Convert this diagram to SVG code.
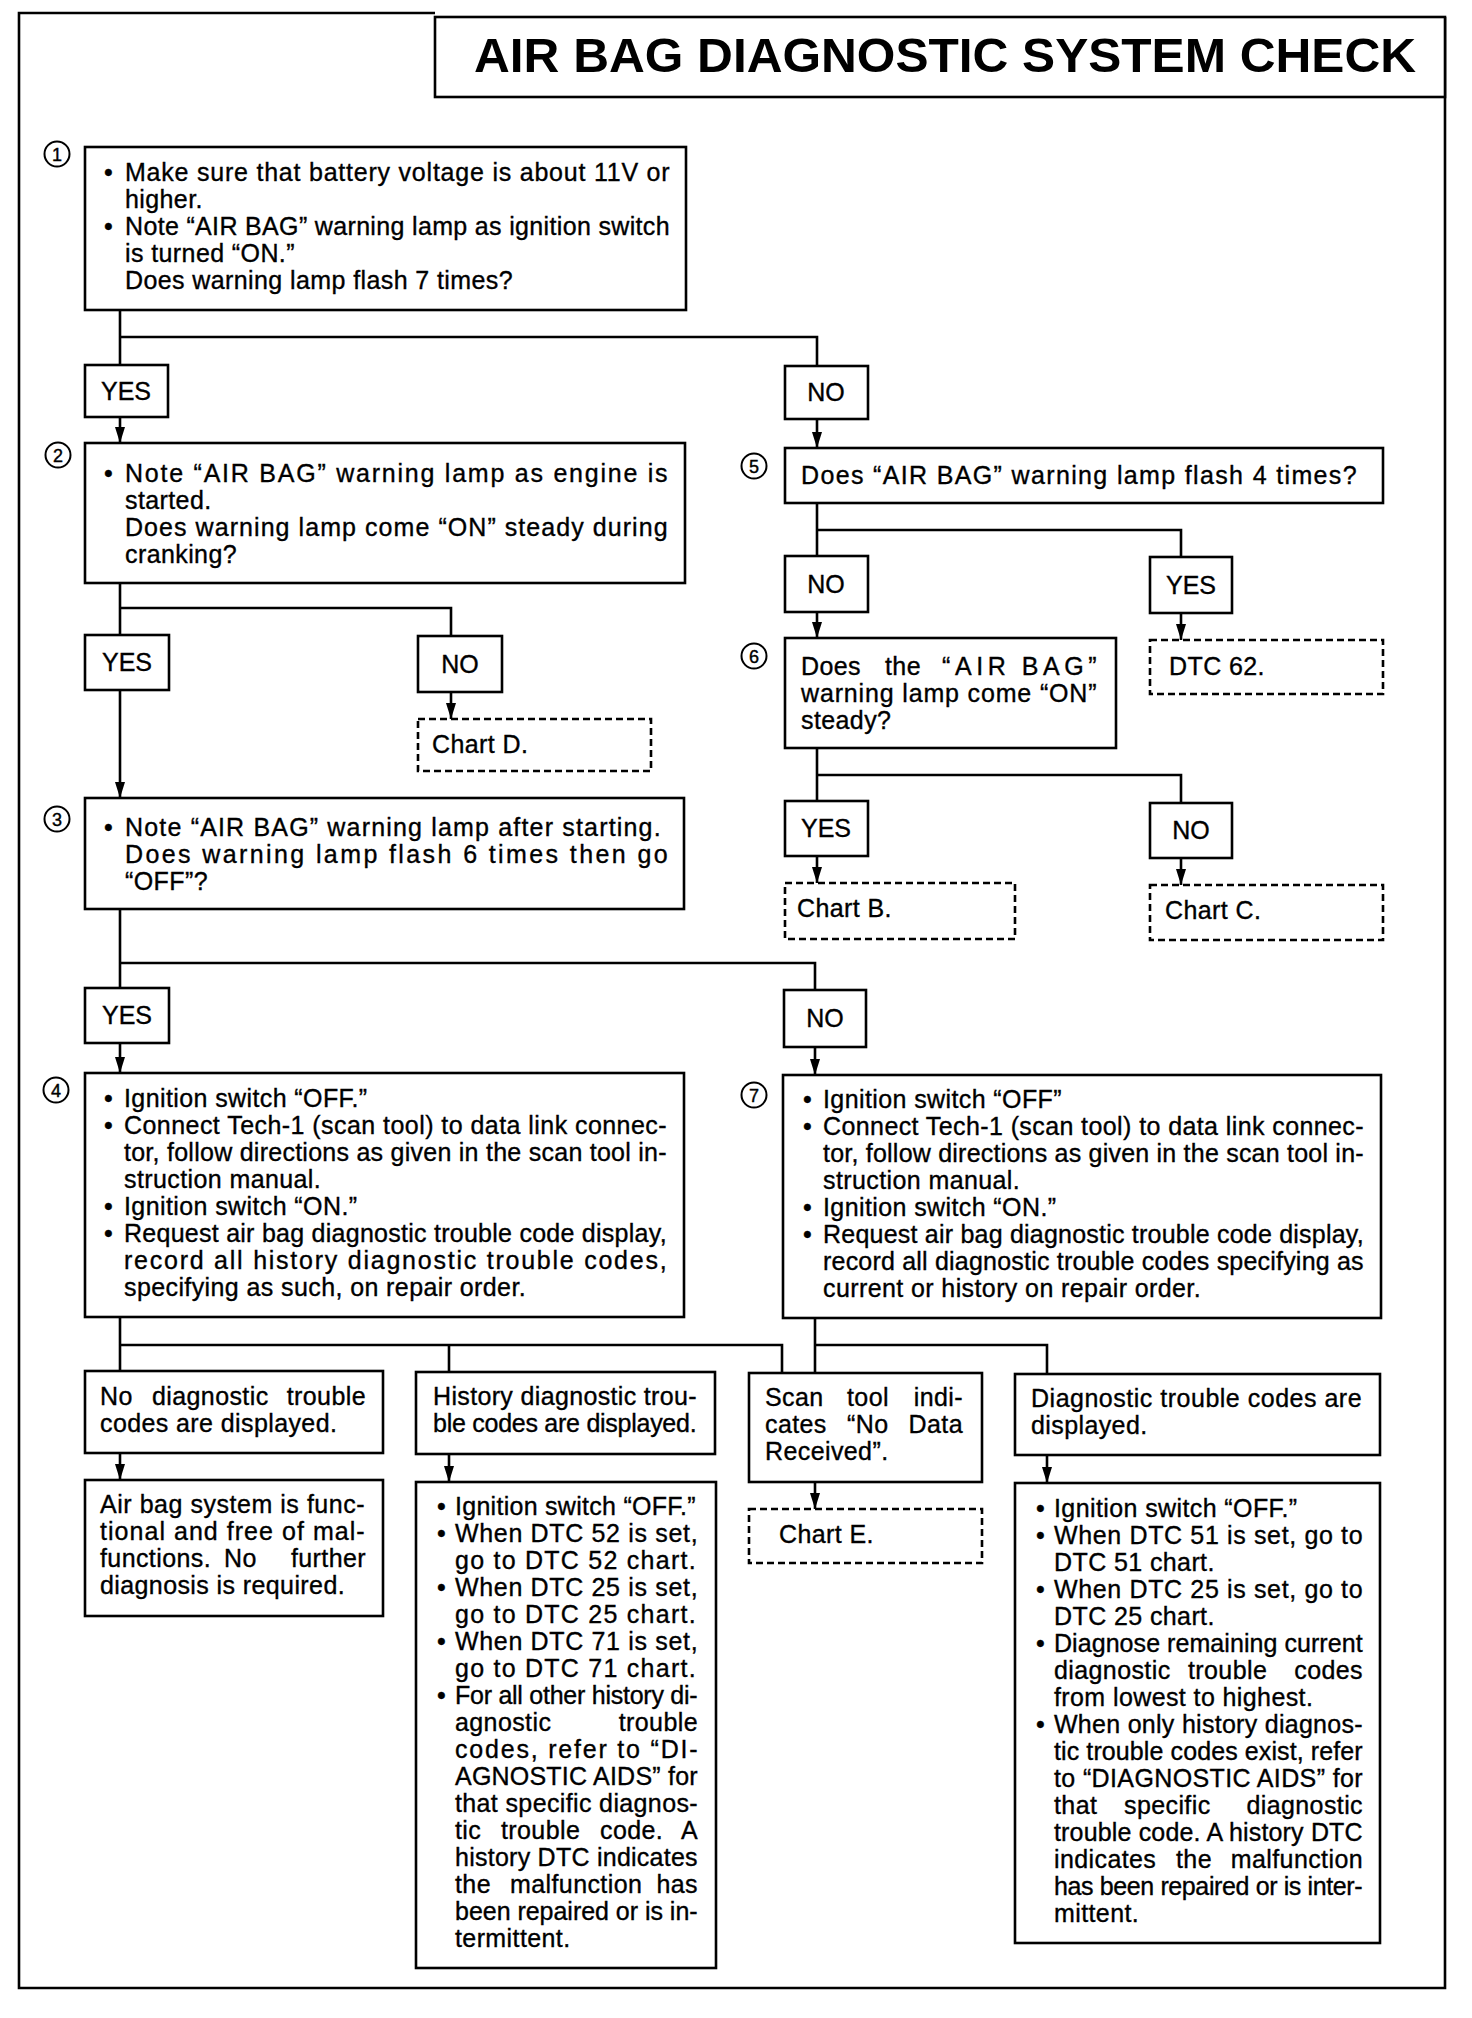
<svg xmlns="http://www.w3.org/2000/svg" width="1472" height="2018" viewBox="0 0 1472 2018">
<defs>
<marker id="ah" viewBox="0 0 16 10" refX="16" refY="5" markerWidth="16" markerHeight="10" markerUnits="userSpaceOnUse" orient="auto"><path d="M0,0 L16,5 L0,10 z" fill="#000"/></marker>
<style>
.box{fill:#fff;stroke:#000;stroke-width:2.6}
.dash{fill:#fff;stroke:#000;stroke-width:2.6;stroke-dasharray:7 4}
.t{font-family:"Liberation Sans",Arial,sans-serif;font-size:25px;letter-spacing:0.4px;fill:#000;stroke:#000;stroke-width:0.35px}
.e{text-anchor:end}
.lb{font-family:"Liberation Sans",Arial,sans-serif;font-size:25px;fill:#000;stroke:#000;stroke-width:0.35px;text-anchor:middle}
.num{font-family:"Liberation Sans",Arial,sans-serif;font-size:18px;fill:#000;stroke:#000;stroke-width:0.4px;text-anchor:middle}
.circ{fill:none;stroke:#000;stroke-width:2}
.conn{fill:none;stroke:#000;stroke-width:2.6}
.title{font-family:"Liberation Sans",Arial,sans-serif;font-size:48px;font-weight:bold;fill:#000}
</style>
</defs>
<rect width="1472" height="2018" fill="#fff"/>
<g id="frame">
<path d="M435,13 H19 V1988 H1445 V17" fill="none" stroke="#000" stroke-width="2.6"/>
</g>
<g id="title">
<rect x="435" y="17" width="1010" height="80" class="box"/>
<text x="474" y="72" class="title" textLength="942" lengthAdjust="spacingAndGlyphs">AIR BAG DIAGNOSTIC SYSTEM CHECK</text>
</g>

<g id="connectors">
<path class="conn" d="M120,310 V365 M120,337 H817 V366"/>
<path class="conn" d="M120,417 V443" marker-end="url(#ah)"/>
<path class="conn" d="M817,419 V448" marker-end="url(#ah)"/>
<path class="conn" d="M817,503 V556 M817,530 H1181 V557"/>
<path class="conn" d="M817,612 V638" marker-end="url(#ah)"/>
<path class="conn" d="M1181,613 V640" marker-end="url(#ah)"/>
<path class="conn" d="M817,748 V801 M817,775 H1181 V803"/>
<path class="conn" d="M817,856 V883" marker-end="url(#ah)"/>
<path class="conn" d="M1181,858 V885" marker-end="url(#ah)"/>
<path class="conn" d="M120,583 V635 M120,608 H451 V636"/>
<path class="conn" d="M451,692 V719" marker-end="url(#ah)"/>
<path class="conn" d="M120,690 V798" marker-end="url(#ah)"/>
<path class="conn" d="M120,909 V988 M120,963 H815 V990"/>
<path class="conn" d="M120,1043 V1073" marker-end="url(#ah)"/>
<path class="conn" d="M815,1047 V1075" marker-end="url(#ah)"/>
<path class="conn" d="M120,1317 V1371 M120,1345 H782 V1373 M449,1345 V1372"/>
<path class="conn" d="M815,1318 V1373 M815,1345 H1047 V1374"/>
<path class="conn" d="M120,1453 V1480" marker-end="url(#ah)"/>
<path class="conn" d="M449,1454 V1482" marker-end="url(#ah)"/>
<path class="conn" d="M815,1482 V1509" marker-end="url(#ah)"/>
<path class="conn" d="M1047,1455 V1483" marker-end="url(#ah)"/>
</g>

<g id="step1">
<circle cx="57" cy="154" r="12.5" class="circ"/><text x="57" y="160.5" class="num">1</text>
<rect x="85" y="147" width="601" height="163" class="box"/>
<text x="104" y="181" class="t">•</text><text x="125" y="181" class="t" textLength="545" lengthAdjust="spacing">Make sure that battery voltage is about 11V or</text>
<text x="125" y="208" class="t">higher.</text>
<text x="104" y="235" class="t">•</text><text x="125" y="235" class="t" textLength="545" lengthAdjust="spacing">Note “AIR BAG” warning lamp as ignition switch</text>
<text x="125" y="262" class="t">is turned “ON.”</text>
<text x="125" y="289" class="t">Does warning lamp flash 7 times?</text>
</g>

<g id="yes1"><rect x="85" y="365" width="83" height="52" class="box"/><text x="126" y="400" class="lb">YES</text></g>
<g id="no1"><rect x="785" y="366" width="83" height="53" class="box"/><text x="826" y="401" class="lb">NO</text></g>

<g id="step2">
<circle cx="58" cy="455" r="12.5" class="circ"/><text x="58" y="461.5" class="num">2</text>
<rect x="85" y="443" width="600" height="140" class="box"/>
<text x="104" y="482" class="t">•</text><text x="125" y="482" class="t" textLength="543" lengthAdjust="spacing">Note “AIR BAG” warning lamp as engine is</text>
<text x="125" y="509" class="t">started.</text>
<text x="125" y="536" class="t" textLength="543" lengthAdjust="spacing">Does warning lamp come “ON” steady during</text>
<text x="125" y="563" class="t">cranking?</text>
</g>

<g id="yes2"><rect x="85" y="635" width="84" height="55" class="box"/><text x="127" y="671" class="lb">YES</text></g>
<g id="no2"><rect x="418" y="636" width="84" height="56" class="box"/><text x="460" y="673" class="lb">NO</text></g>
<g id="chartD"><rect x="418" y="719" width="233" height="52" class="dash"/><text x="432" y="753" class="t">Chart D.</text></g>

<g id="step3">
<circle cx="57" cy="819" r="12.5" class="circ"/><text x="57" y="825.5" class="num">3</text>
<rect x="85" y="798" width="599" height="111" class="box"/>
<text x="104" y="836" class="t">•</text><text x="125" y="836" class="t" textLength="536" lengthAdjust="spacing">Note “AIR BAG” warning lamp after starting.</text>
<text x="125" y="863" class="t" textLength="543" lengthAdjust="spacing">Does warning lamp flash 6 times then go</text>
<text x="125" y="890" class="t">“OFF”?</text>
</g>

<g id="yes3"><rect x="85" y="988" width="84" height="55" class="box"/><text x="127" y="1024" class="lb">YES</text></g>
<g id="no3"><rect x="784" y="990" width="82" height="57" class="box"/><text x="825" y="1027" class="lb">NO</text></g>

<g id="step4">
<circle cx="56" cy="1090" r="12.5" class="circ"/><text x="56" y="1096.5" class="num">4</text>
<rect x="85" y="1073" width="599" height="244" class="box"/>
<text x="104" y="1107" class="t">•</text><text x="124" y="1107" class="t">Ignition switch “OFF.”</text>
<text x="104" y="1134" class="t">•</text><text x="124" y="1134" class="t" textLength="543" lengthAdjust="spacing">Connect Tech-1 (scan tool) to data link connec-</text>
<text x="124" y="1161" class="t" textLength="543" lengthAdjust="spacing">tor, follow directions as given in the scan tool in-</text>
<text x="124" y="1188" class="t">struction manual.</text>
<text x="104" y="1215" class="t">•</text><text x="124" y="1215" class="t">Ignition switch “ON.”</text>
<text x="104" y="1242" class="t">•</text><text x="124" y="1242" class="t" textLength="543" lengthAdjust="spacing">Request air bag diagnostic trouble code display,</text>
<text x="124" y="1269" class="t" textLength="543" lengthAdjust="spacing">record all history diagnostic trouble codes,</text>
<text x="124" y="1296" class="t">specifying as such, on repair order.</text>
</g>

<g id="step5">
<circle cx="754" cy="466" r="12.5" class="circ"/><text x="754" y="472.5" class="num">5</text>
<rect x="785" y="448" width="598" height="55" class="box"/>
<text x="801" y="484" class="t" textLength="556" lengthAdjust="spacing">Does “AIR BAG” warning lamp flash 4 times?</text>
</g>

<g id="no5"><rect x="785" y="556" width="83" height="56" class="box"/><text x="826" y="593" class="lb">NO</text></g>
<g id="yes5"><rect x="1150" y="557" width="82" height="56" class="box"/><text x="1191" y="594" class="lb">YES</text></g>
<g id="dtc62"><rect x="1150" y="640" width="233" height="54" class="dash"/><text x="1169" y="675" class="t">DTC 62.</text></g>

<g id="step6">
<circle cx="754" cy="656" r="12.5" class="circ"/><text x="754" y="662.5" class="num">6</text>
<rect x="785" y="638" width="331" height="110" class="box"/>
<text x="801" y="675" class="t">Does</text><text x="885" y="675" class="t">the</text><text x="942" y="675" class="t" textLength="155" lengthAdjust="spacing">“AIR BAG”</text>
<text x="801" y="702" class="t" textLength="296" lengthAdjust="spacing">warning lamp come “ON”</text>
<text x="801" y="729" class="t">steady?</text>
</g>

<g id="yes6"><rect x="785" y="801" width="83" height="55" class="box"/><text x="826" y="837" class="lb">YES</text></g>
<g id="no6"><rect x="1150" y="803" width="82" height="55" class="box"/><text x="1191" y="839" class="lb">NO</text></g>
<g id="chartB"><rect x="785" y="883" width="230" height="56" class="dash"/><text x="797" y="917" class="t">Chart B.</text></g>
<g id="chartC"><rect x="1150" y="885" width="233" height="55" class="dash"/><text x="1165" y="919" class="t">Chart C.</text></g>

<g id="step7">
<circle cx="754" cy="1095" r="12.5" class="circ"/><text x="754" y="1101.5" class="num">7</text>
<rect x="783" y="1075" width="598" height="243" class="box"/>
<text x="803" y="1108" class="t">•</text><text x="823" y="1108" class="t">Ignition switch “OFF”</text>
<text x="803" y="1135" class="t">•</text><text x="823" y="1135" class="t" textLength="541" lengthAdjust="spacing">Connect Tech-1 (scan tool) to data link connec-</text>
<text x="823" y="1162" class="t" textLength="541" lengthAdjust="spacing">tor, follow directions as given in the scan tool in-</text>
<text x="823" y="1189" class="t">struction manual.</text>
<text x="803" y="1216" class="t">•</text><text x="823" y="1216" class="t">Ignition switch “ON.”</text>
<text x="803" y="1243" class="t">•</text><text x="823" y="1243" class="t" textLength="541" lengthAdjust="spacing">Request air bag diagnostic trouble code display,</text>
<text x="823" y="1270" class="t" textLength="541" lengthAdjust="spacing">record all diagnostic trouble codes specifying as</text>
<text x="823" y="1297" class="t">current or history on repair order.</text>
</g>

<g id="noCodes">
<rect x="85" y="1371" width="298" height="82" class="box"/>
<text x="100" y="1405" class="t">No</text><text x="152" y="1405" class="t">diagnostic</text><text x="366" y="1405" class="t e">trouble</text>
<text x="100" y="1432" class="t">codes are displayed.</text>
</g>
<g id="historyCodes">
<rect x="416" y="1372" width="299" height="82" class="box"/>
<text x="433" y="1405" class="t" textLength="264" lengthAdjust="spacing">History diagnostic trou-</text>
<text x="433" y="1432" class="t" textLength="264" lengthAdjust="spacing">ble codes are displayed.</text>
</g>
<g id="noData">
<rect x="749" y="1373" width="233" height="109" class="box"/>
<text x="765" y="1406" class="t">Scan</text><text x="847" y="1406" class="t">tool</text><text x="963" y="1406" class="t e">indi-</text>
<text x="765" y="1433" class="t">cates</text><text x="847" y="1433" class="t">“No</text><text x="963" y="1433" class="t e">Data</text>
<text x="765" y="1460" class="t">Received”.</text>
</g>
<g id="codesDisplayed">
<rect x="1015" y="1374" width="365" height="81" class="box"/>
<text x="1031" y="1407" class="t" textLength="331" lengthAdjust="spacing">Diagnostic trouble codes are</text>
<text x="1031" y="1434" class="t">displayed.</text>
</g>

<g id="systemOK">
<rect x="85" y="1480" width="298" height="136" class="box"/>
<text x="100" y="1513" class="t" textLength="265" lengthAdjust="spacing">Air bag system is func-</text>
<text x="100" y="1540" class="t" textLength="265" lengthAdjust="spacing">tional and free of mal-</text>
<text x="100" y="1567" class="t">functions.</text><text x="224" y="1567" class="t">No</text><text x="366" y="1567" class="t e">further</text>
<text x="100" y="1594" class="t">diagnosis is required.</text>
</g>

<g id="historyActions">
<rect x="416" y="1482" width="300" height="486" class="box"/>
<text x="437" y="1515" class="t">•</text><text x="455" y="1515" class="t" textLength="241" lengthAdjust="spacing">Ignition switch “OFF.”</text>
<text x="437" y="1542" class="t">•</text><text x="455" y="1542" class="t" textLength="243" lengthAdjust="spacing">When DTC 52 is set,</text>
<text x="455" y="1569" class="t" textLength="241" lengthAdjust="spacing">go to DTC 52 chart.</text>
<text x="437" y="1596" class="t">•</text><text x="455" y="1596" class="t" textLength="243" lengthAdjust="spacing">When DTC 25 is set,</text>
<text x="455" y="1623" class="t" textLength="241" lengthAdjust="spacing">go to DTC 25 chart.</text>
<text x="437" y="1650" class="t">•</text><text x="455" y="1650" class="t" textLength="243" lengthAdjust="spacing">When DTC 71 is set,</text>
<text x="455" y="1677" class="t" textLength="241" lengthAdjust="spacing">go to DTC 71 chart.</text>
<text x="437" y="1704" class="t">•</text><text x="455" y="1704" class="t" textLength="243" lengthAdjust="spacing">For all other history di-</text>
<text x="455" y="1731" class="t">agnostic</text><text x="698" y="1731" class="t e">trouble</text>
<text x="455" y="1758" class="t" textLength="243" lengthAdjust="spacing">codes, refer to “DI-</text>
<text x="455" y="1785" class="t" textLength="243" lengthAdjust="spacing">AGNOSTIC AIDS” for</text>
<text x="455" y="1812" class="t" textLength="243" lengthAdjust="spacing">that specific diagnos-</text>
<text x="455" y="1839" class="t">tic</text><text x="501" y="1839" class="t">trouble</text><text x="600" y="1839" class="t">code.</text><text x="698" y="1839" class="t e">A</text>
<text x="455" y="1866" class="t" textLength="243" lengthAdjust="spacing">history DTC indicates</text>
<text x="455" y="1893" class="t">the</text><text x="510" y="1893" class="t">malfunction</text><text x="698" y="1893" class="t e">has</text>
<text x="455" y="1920" class="t" textLength="243" lengthAdjust="spacing">been repaired or is in-</text>
<text x="455" y="1947" class="t">termittent.</text>
</g>

<g id="chartE"><rect x="749" y="1509" width="233" height="54" class="dash"/><text x="779" y="1543" class="t">Chart E.</text></g>

<g id="codeActions">
<rect x="1015" y="1483" width="365" height="460" class="box"/>
<text x="1036" y="1517" class="t">•</text><text x="1054" y="1517" class="t">Ignition switch “OFF.”</text>
<text x="1036" y="1544" class="t">•</text><text x="1054" y="1544" class="t" textLength="309" lengthAdjust="spacing">When DTC 51 is set, go to</text>
<text x="1054" y="1571" class="t">DTC 51 chart.</text>
<text x="1036" y="1598" class="t">•</text><text x="1054" y="1598" class="t" textLength="309" lengthAdjust="spacing">When DTC 25 is set, go to</text>
<text x="1054" y="1625" class="t">DTC 25 chart.</text>
<text x="1036" y="1652" class="t">•</text><text x="1054" y="1652" class="t" textLength="309" lengthAdjust="spacing">Diagnose remaining current</text>
<text x="1054" y="1679" class="t">diagnostic</text><text x="1188" y="1679" class="t">trouble</text><text x="1363" y="1679" class="t e">codes</text>
<text x="1054" y="1706" class="t">from lowest to highest.</text>
<text x="1036" y="1733" class="t">•</text><text x="1054" y="1733" class="t" textLength="309" lengthAdjust="spacing">When only history diagnos-</text>
<text x="1054" y="1760" class="t" textLength="309" lengthAdjust="spacing">tic trouble codes exist, refer</text>
<text x="1054" y="1787" class="t" textLength="309" lengthAdjust="spacing">to “DIAGNOSTIC AIDS” for</text>
<text x="1054" y="1814" class="t">that</text><text x="1124" y="1814" class="t">specific</text><text x="1363" y="1814" class="t e">diagnostic</text>
<text x="1054" y="1841" class="t" textLength="309" lengthAdjust="spacing">trouble code. A history DTC</text>
<text x="1054" y="1868" class="t">indicates</text><text x="1176" y="1868" class="t">the</text><text x="1363" y="1868" class="t e">malfunction</text>
<text x="1054" y="1895" class="t" textLength="309" lengthAdjust="spacing">has been repaired or is inter-</text>
<text x="1054" y="1922" class="t">mittent.</text>
</g>
</svg>
